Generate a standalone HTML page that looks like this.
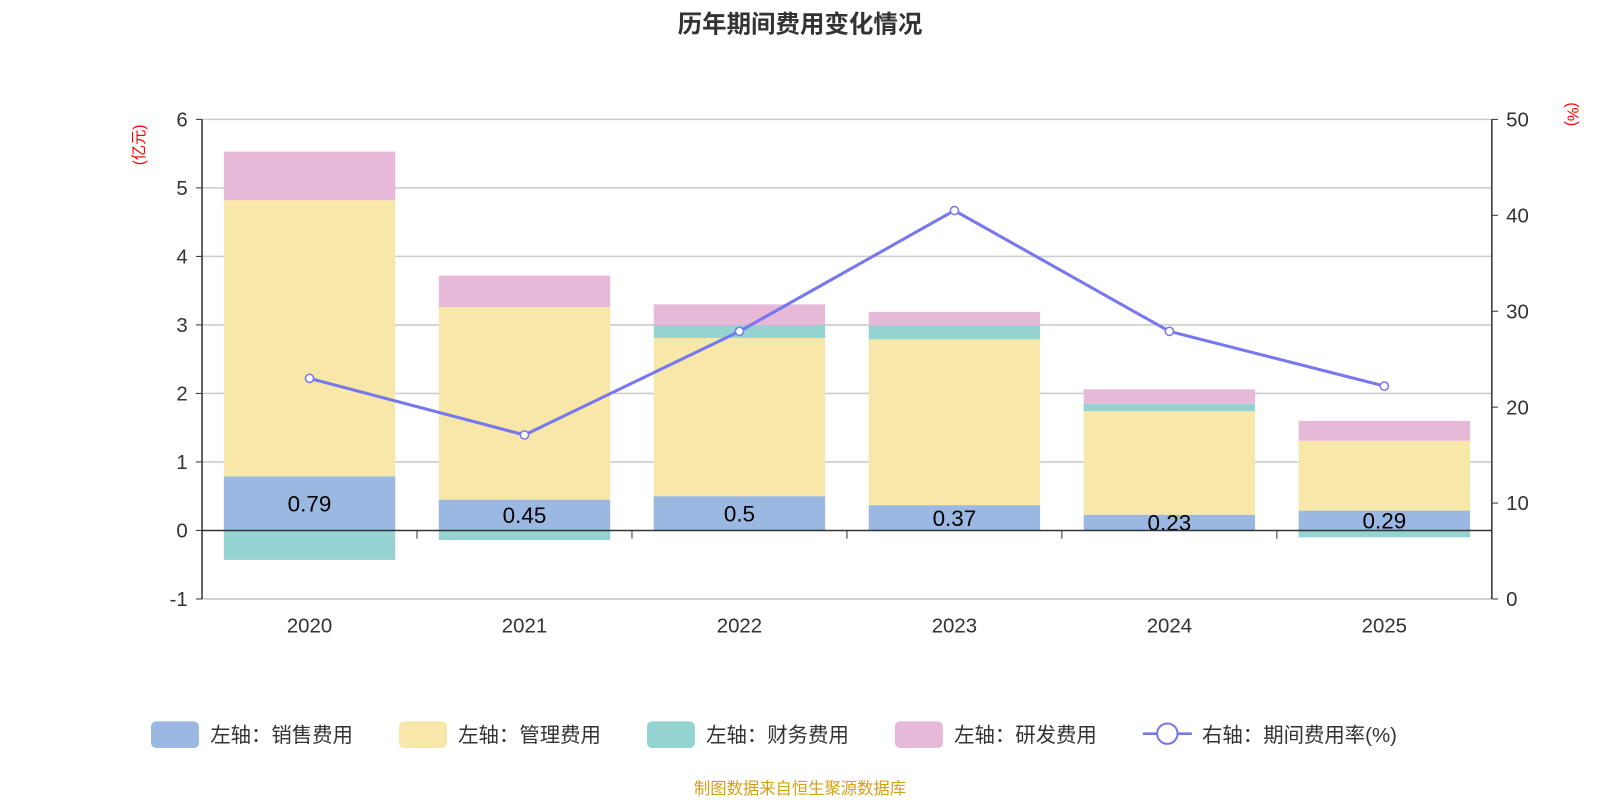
<!DOCTYPE html>
<html><head><meta charset="utf-8"><style>
body{margin:0;background:#fff;font-family:"Liberation Sans","Noto Sans CJK SC",sans-serif;overflow:hidden;}
svg text{font-family:"Liberation Sans","Noto Sans CJK SC",sans-serif;}
</style></head><body>
<svg id="c" width="1600" height="800">
<g transform="scale(1.0204)">
<text x="784" y="32" text-anchor="middle" font-size="24" font-weight="bold" fill="#333">历年期间费用变化情况</text>
<text x="0" y="0" transform="translate(141,142) rotate(-90)" text-anchor="middle" font-size="15" fill="#f00">(亿元)</text>
<text x="0" y="0" transform="translate(1536,112) rotate(90)" text-anchor="middle" font-size="15" fill="#f00">(%)</text>
<g id="grid"></g><g id="bars"></g><g id="axes"></g><g id="line"></g>
<g id="legend" font-size="20" fill="#333">
<rect x="148" y="707" width="47" height="26" rx="5" fill="#9bb8e2"/><text x="206" y="727">左轴：销售费用</text>
<rect x="391" y="707" width="47" height="26" rx="5" fill="#f7e7a8"/><text x="449" y="727">左轴：管理费用</text>
<rect x="634" y="707" width="47" height="26" rx="5" fill="#95d3d3"/><text x="692" y="727">左轴：财务费用</text>
<rect x="877" y="707" width="47" height="26" rx="5" fill="#e6b9d9"/><text x="935" y="727">左轴：研发费用</text>
<line x1="1120" y1="719" x2="1168" y2="719" stroke="#7777ee" stroke-width="2.5"/><circle cx="1144" cy="719" r="10" fill="#fff" stroke="#7777ee" stroke-width="2"/><text x="1178" y="727">右轴：期间费用率(%)</text>
</g>
<text x="784" y="778" text-anchor="middle" font-size="16" fill="#d4a017">制图数据来自恒生聚源数据库</text>
</g>
</svg>
<script>
const categories=["2020","2021","2022","2023","2024","2025"];
const sales=[0.79,0.45,0.5,0.37,0.23,0.29];
const mgmt=[4.03,2.81,2.31,2.42,1.51,1.02];
const finance=[-0.43,-0.14,0.19,0.2,0.11,-0.1];
const rd=[0.71,0.46,0.3,0.2,0.21,0.29];
const rate=[23.0,17.1,27.9,40.5,27.9,22.2];
const leftTicks=[-1,0,1,2,3,4,5,6];
const rightTicks=[0,10,20,30,40,50];
const NS="http://www.w3.org/2000/svg";
const X0=198,X1=1462,T=117,B=587;
const yL=v=>T+(6-v)/7*(B-T);
const yR=v=>B-v/50*(B-T);
const bw=(X1-X0)/categories.length;
const xc=i=>X0+bw*(i+0.5);
function mk(p,tag,a){const e=document.createElementNS(NS,tag);for(const k in a)e.setAttribute(k,a[k]);document.getElementById(p).appendChild(e);return e;}
leftTicks.forEach(t=>{
 if(t!==0){const g=mk("grid","line",{x1:X0,x2:X1,y1:yL(t),y2:yL(t),stroke:"#ccc","stroke-width":1.5});}
 const tl=mk("axes","text",{x:X0-14,y:yL(t)+7,"text-anchor":"end","font-size":20,fill:"#333"});tl.textContent=t;
 
 mk("axes","line",{x1:X0-6,x2:X0,y1:yL(t),y2:yL(t),stroke:"#333"});
});
rightTicks.forEach(t=>{
 const tl=mk("axes","text",{x:X1+14,y:yR(t)+7,"font-size":20,fill:"#333"});tl.textContent=t;
 
 mk("axes","line",{x1:X1,x2:X1+6,y1:yR(t),y2:yR(t),stroke:"#333"});
});
const bwid=168;
categories.forEach((c,i)=>{
 let pos=0,neg=0;
 const segs=[[sales[i],"#9bb8e2","bar-sales"],[mgmt[i],"#f7e7a8","bar-mgmt"],[finance[i],"#95d3d3","bar-finance"],[rd[i],"#e6b9d9","bar-rd"]];
 segs.forEach(([v,col,n])=>{
  let a,b;
  if(v>=0){a=pos;b=pos+v;pos=b;}else{a=neg;b=neg+v;neg=b;}
  const r=mk("bars","rect",{x:xc(i)-bwid/2,width:bwid,y:Math.min(yL(a),yL(b)),height:Math.abs(yL(a)-yL(b)),fill:col});
  
 });
 const lb=mk("bars","text",{x:xc(i),y:(yL(0)+yL(sales[i]))/2+8,"text-anchor":"middle","font-size":22,fill:"#000"});
 lb.textContent=sales[i];
 const xl=mk("axes","text",{x:xc(i),y:620,"text-anchor":"middle","font-size":20,fill:"#333"});
 xl.textContent=c;
 if(i>0)mk("axes","line",{x1:X0+bw*i,x2:X0+bw*i,y1:yL(0),y2:yL(0)+8,stroke:"#333"});
});
const a1=mk("axes","line",{x1:X0,x2:X1,y1:yL(0),y2:yL(0),stroke:"#333","stroke-width":1.5});
const bl=mk("axes","line",{x1:X0,x2:X1,y1:B,y2:B,stroke:"#ccc","stroke-width":1.5});
const a2=mk("axes","line",{x1:X0,x2:X0,y1:T,y2:B,stroke:"#333","stroke-width":1.5});
const a3=mk("axes","line",{x1:X1,x2:X1,y1:T,y2:B,stroke:"#333","stroke-width":1.5});
const pl=mk("line","polyline",{points:rate.map((v,i)=>xc(i)+","+yR(v)).join(" "),fill:"none",stroke:"#7777ee","stroke-width":3});

rate.forEach((v,i)=>{const p=mk("line","circle",{cx:xc(i),cy:yR(v),r:4,fill:"#fff",stroke:"#7777ee","stroke-width":1.5});
 });
</script>
</body></html>
